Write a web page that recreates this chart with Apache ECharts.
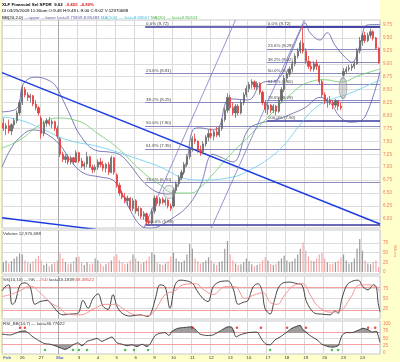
<!DOCTYPE html>
<html><head><meta charset="utf-8">
<script src="https://cdn.jsdelivr.net/npm/echarts@6/dist/echarts.min.js"></script>
<style>html,body{margin:0;padding:0;background:#fff}#c{width:400px;height:362px}</style>
</head><body><div id="c"></div>
<script>
// ---------- DATA (60-minute bars, 7 per day) ----------
const dayLabels = ['Feb','26','27','Mar','3','4','5','6','9','10','11','12','13','16','17','18','19','20','23','24'];
const monthLabels = ['Feb','Mar'];
const openP = [
7.85,7.75,7.80,7.70,7.82,7.90,8.05, 8.25,8.50,8.40,8.35,8.38,8.22,8.15, 7.95,7.65,7.85,7.90,7.84,7.88,7.75,
7.55,7.25,7.15,7.20,7.10,7.18,7.10, 7.28,7.12,7.02,7.06,7.20,7.00,6.95, 7.00,7.10,7.05,6.98,7.05,6.90,7.18,
6.85,6.65,6.50,6.42,6.35,6.40,6.20, 6.35,6.15,6.20,6.05,6.10,5.95,5.92, 6.15,6.40,6.30,6.38,6.32,6.36,6.25,
6.25,6.55,6.68,6.80,6.90,7.05,7.20, 7.35,7.55,7.50,7.32,7.30,7.45,7.58, 7.65,7.60,7.68,7.62,7.75,7.92,8.10,
8.35,8.15,8.05,8.18,8.05,8.25,8.40, 8.52,8.60,8.65,8.55,8.62,8.45,8.25, 8.12,8.20,8.10,8.18,8.08,8.30,8.50,
8.72,8.80,8.90,9.00,9.15,9.25,9.40, 9.25,9.05,8.95,8.90,9.00,8.95,8.65, 8.40,8.28,8.30,8.25,8.20,8.28,8.18,
8.78,8.85,8.90,8.92,8.95,9.00,9.25, 9.45,9.55,9.45,9.55,9.62,9.50,9.30];
const highP = [
7.95,7.85,7.92,7.85,7.95,8.10,8.30, 8.58,8.55,8.45,8.42,8.40,8.30,8.18, 8.00,7.90,7.95,7.97,7.92,7.90,7.80,
7.58,7.30,7.25,7.25,7.22,7.20,7.33, 7.30,7.18,7.10,7.30,7.22,7.05,7.05, 7.15,7.18,7.12,7.08,7.10,7.22,7.20,
6.88,6.70,6.55,6.50,6.45,6.42,6.40, 6.38,6.25,6.22,6.15,6.12,6.05,6.20, 6.45,6.45,6.42,6.42,6.40,6.38,6.30,
6.60,6.72,6.85,6.95,7.10,7.25,7.40, 7.60,7.65,7.52,7.42,7.50,7.62,7.72, 7.75,7.72,7.78,7.80,7.95,8.15,8.43,
8.40,8.25,8.22,8.22,8.30,8.45,8.58, 8.65,8.70,8.68,8.66,8.64,8.48,8.30, 8.25,8.22,8.22,8.20,8.35,8.55,8.78,
8.85,8.95,9.05,9.20,9.30,9.45,9.72, 9.30,9.15,9.05,9.05,9.08,8.98,8.70, 8.45,8.35,8.38,8.30,8.32,8.30,8.25,
8.92,8.95,8.98,9.00,9.05,9.30,9.52, 9.60,9.62,9.60,9.68,9.65,9.52,9.32];
const lowP = [
7.70,7.62,7.65,7.62,7.75,7.85,8.00, 8.20,8.35,8.28,8.25,8.18,8.10,8.00, 7.55,7.60,7.78,7.80,7.75,7.70,7.55,
7.20,7.10,7.08,7.05,7.05,7.05,7.08, 7.08,6.98,6.95,7.00,6.98,6.88,6.90, 6.95,7.00,6.92,6.90,6.85,6.88,6.85,
6.60,6.45,6.38,6.30,6.25,6.15,6.15, 6.10,6.05,6.00,5.98,5.90,5.88,5.90, 6.10,6.25,6.25,6.28,6.26,6.20,6.15,
6.22,6.50,6.62,6.75,6.85,7.00,7.15, 7.30,7.45,7.28,7.22,7.25,7.40,7.50, 7.55,7.52,7.58,7.58,7.70,7.88,8.05,
8.10,8.00,7.95,8.00,8.02,8.20,8.35, 8.45,8.52,8.50,8.50,8.40,8.20,8.05, 8.02,8.05,8.05,8.00,8.05,8.25,8.45,
8.65,8.75,8.85,8.95,9.10,9.20,9.20, 9.00,8.90,8.85,8.85,8.88,8.60,8.35, 8.22,8.15,8.20,8.12,8.15,8.10,8.10,
8.75,8.80,8.85,8.86,8.90,8.98,9.20, 9.35,9.40,9.42,9.50,9.45,9.28,9.00];
const closeP = [
7.75,7.80,7.70,7.82,7.90,8.05,8.25, 8.50,8.40,8.35,8.38,8.22,8.15,8.05, 7.65,7.85,7.90,7.84,7.88,7.75,7.60,
7.25,7.15,7.20,7.10,7.18,7.10,7.28, 7.12,7.02,7.06,7.20,7.00,6.95,7.00, 7.10,7.05,6.98,7.05,6.90,7.18,6.90,
6.65,6.50,6.42,6.35,6.40,6.20,6.35, 6.15,6.20,6.05,6.10,5.95,5.92,6.15, 6.40,6.30,6.38,6.32,6.36,6.25,6.20,
6.55,6.68,6.80,6.90,7.05,7.20,7.35, 7.55,7.50,7.32,7.30,7.45,7.58,7.65, 7.60,7.68,7.62,7.75,7.92,8.10,8.35,
8.15,8.05,8.18,8.05,8.25,8.40,8.52, 8.60,8.65,8.55,8.62,8.45,8.25,8.12, 8.20,8.10,8.18,8.08,8.30,8.50,8.72,
8.80,8.90,9.00,9.15,9.25,9.40,9.25, 9.05,8.95,8.90,9.00,8.95,8.65,8.40, 8.28,8.30,8.25,8.20,8.28,8.18,8.15,
8.85,8.90,8.92,8.95,9.00,9.25,9.45, 9.55,9.45,9.55,9.62,9.50,9.30,9.02];
const volumeM = [
25,30,22,28,35,40,48, 45,30,25,22,28,35,42, 30,18,22,15,20,25,30,
48,35,25,20,22,28,38, 40,25,18,25,20,22,35, 30,22,15,20,25,30,40,
45,30,25,20,22,30,45, 35,28,22,25,30,40,50, 45,25,20,18,22,28,40,
50,35,28,25,30,45,72, 60,35,28,22,25,30,38, 30,22,18,25,28,60,80,
45,30,22,18,20,25,35, 28,20,15,18,22,30,38, 30,20,18,22,28,35,42,
30,25,28,35,45,60,76, 55,40,30,28,35,45,50, 35,25,20,22,25,30,38,
45,30,22,25,35,60,85, 55,30,22,20,25,30,13];
// indicator lines as [barIndex, value]
const bbUpper = [[-0.5,8.07],[5.1,8.14],[6.9,8.55],[8.8,8.69],[11.7,8.74],[15.4,8.71],[19.1,8.59],[21.7,8.34],[24.7,8.01],[28.4,7.62],[34,7.33],[39.5,7.29],[43.2,7.24],[47,7.04],[50.6,6.79],[54.3,6.60],[58,6.50],[61.7,6.48],[65.4,6.75],[68,7.14],[70.2,7.72],[72.8,7.76],[77.7,7.72],[80.2,7.80],[82.1,8.22],[84,8.32],[90.6,8.30],[95.8,8.63],[101.4,8.69],[106.2,9.17],[109.9,9.63],[111.7,9.79],[113.6,9.60],[117.3,9.46],[119.9,9.60],[122.8,9.36],[126.5,9.13],[129.1,9.03],[132.1,9.36],[134.7,9.75],[139.5,9.76]];
const bbLower = [[-0.5,7.00],[2.5,7.33],[6.2,7.58],[11,7.72],[15.4,7.66],[21,7.43],[24.7,7.14],[29.5,6.89],[35.8,6.81],[40.6,6.75],[43.2,6.56],[47,6.17],[50.6,5.88],[54.3,5.82],[56.9,5.84],[61.7,5.98],[68,6.23],[72.8,6.62],[77.6,7.25],[80.2,7.20],[85,7.10],[90.6,7.72],[95,7.85],[100.6,7.91],[106.2,8.02],[111.7,8.15],[117.3,8.35],[121,8.25],[124.7,7.97],[128.4,7.87],[132.1,7.89],[135.8,8.20],[139.5,8.85]];
const maGreen = [[-0.5,7.37],[6.2,7.53],[13.6,7.82],[20.2,7.95],[26.5,7.91],[35.8,7.62],[43.2,7.33],[50.6,6.95],[58,6.66],[63.6,6.50],[69.1,6.50],[72.8,6.60],[78.4,6.91],[84,7.24],[91.4,7.62],[98.8,8.01],[106.2,8.40],[113.6,8.65],[119.1,8.69],[124.7,8.65],[132.1,8.78],[139.5,8.90]];
const maCyan = [[-0.5,7.97],[6.2,7.91],[13.6,7.76],[23.6,7.53],[35.8,7.39],[54.3,7.08],[72.8,6.75],[85,6.81],[91.4,6.95],[97.6,7.14],[103.6,7.41],[109.9,7.82],[115.4,8.14],[121,8.30],[128.4,8.43],[137,8.63],[139.5,8.685]];
const stochK = [[-0.5,70],[1,82],[2.1,85],[3.2,35],[4.3,40],[6.2,85],[8,90],[9.9,80],[11.7,35],[13.6,42],[16.2,45],[18.4,30],[20.2,15],[22.1,8],[24.7,10],[27.6,12],[29.5,45],[31.4,25],[33.2,50],[35.1,62],[36.9,30],[38.8,22],[40.6,60],[42.1,30],[44,12],[47,5],[50.6,8],[53.6,4],[55.1,20],[56.5,55],[58,85],[59.9,80],[61.7,25],[63.6,85],[65.4,97],[68,95],[70.2,88],[71.7,70],[73.9,50],[75.8,42],[77.7,80],[80.2,93],[83.2,95],[85.1,75],[87,35],[88.8,40],[90.6,45],[92.5,80],[94.3,88],[95.8,70],[96.9,25],[98.8,10],[100.2,40],[101.7,75],[103.6,90],[106.2,92],[108.8,88],[110.6,85],[112.1,45],[113.6,25],[115.4,12],[118,10],[121,8],[122.8,18],[124,12],[125.4,50],[127.3,85],[129.5,95],[131.4,97],[133.2,80],[135.1,72],[137,85],[138.1,80],[138.8,40],[139.5,16.2]];
const stochD = [[-0.5,55],[2.5,60],[6.2,70],[9.9,82],[13.6,65],[17.3,40],[21,25],[23.6,10],[28.4,8],[34,25],[37.6,35],[41.4,35],[45.1,20],[48.8,8],[53.6,6],[56.2,20],[59.9,60],[63.6,70],[66.5,85],[71,88],[74.7,70],[77.7,60],[82.1,80],[85.8,80],[89.5,50],[93.2,60],[96.2,65],[98.8,40],[101.4,35],[104.3,60],[108,85],[111,88],[113.6,60],[116.5,30],[121,15],[124.7,18],[128.4,50],[132.1,85],[135.8,85],[139.5,68.4]];
const rsiVals = [[-0.5,65],[2.5,62],[5.1,70],[6.2,74],[8,76],[9.1,70],[11,55],[13.6,40],[15.4,32],[17.3,30],[19.1,25],[21,18],[22.8,12],[24.7,20],[25.8,28],[27.6,35],[29.1,25],[31,40],[32.8,45],[34.7,50],[36.5,40],[38.4,48],[40.2,55],[42.1,35],[44,30],[45.8,25],[47.7,28],[49.5,22],[51.4,30],[53.2,22],[54.3,30],[56.2,60],[58,68],[59.9,70],[61.4,60],[62.5,75],[64.7,85],[67.3,88],[69.9,90],[71.7,75],[72.8,65],[75.4,60],[77.7,62],[80.2,75],[83.2,90],[84.7,88],[86.2,55],[87.6,62],[90.6,70],[93.9,72],[95.8,45],[97.3,30],[98.8,28],[100.6,45],[102.5,55],[104.7,70],[106.9,85],[109.9,95],[111,80],[113.6,60],[116.2,45],[118,30],[120.2,22],[122.1,20],[124,25],[125.4,60],[126.9,70],[129.1,70],[131.4,78],[133.2,85],[135.1,80],[136.6,72],[138.1,75],[139.5,36.8]];
const rsiSellDots = [[6.2,87],[8.0,87],[69.9,87],[86.5,87],[95.4,87],[105.1,87],[112.1,87],[135.1,87],[137.7,87]];
const rsiBuyDots = [[15.4,10],[25.8,10],[28.0,10],[31.0,10],[45.1,10],[48.4,10],[53.6,10],[98.8,10],[121.7,10],[124.0,10]];
// annotations
const fibNames = ['0.0%','23.6%','38.2%','50.0%','61.8%','78.6%','100.0%'];
const fibLeftValues = [9.72,8.81,8.25,7.80,7.35,6.70,5.88];
const fibLeftStart = 52.5;
const fibRightValues = [9.72,9.29,9.02,8.81,8.60,8.29,7.90];
const fibRightStart = 97.6;
const trendBlue = [[[-0.5,8.83],[139.5,5.90]], [[-0.5,6.02],[60,5.63]]];
const trendThin = [[[52,5.82],[86,9.85]], [[77,5.82],[111.5,9.85]]];
const ovals = [[61.4,6.52],[125.8,8.53]];
const monthBoundary = 20.5;  // between Feb 27 close and Mar 2 open
// axis ticks
const priceTicks = [6.00,6.25,6.50,6.75,7.00,7.25,7.50,7.75,8.00,8.25,8.50,8.75,9.00,9.25,9.50,9.75];
const volTicks = [0,25,50,75];
const stochTicks = [25,50,75];
const stochBands = [20,80];
const rsiTicks = [0,25,50,75,100];
const rsiBands = [30,70];

// ---------- CHART ----------
const N = closeP.length;
const cats = closeP.map((_, i) => String(i));
const FONT = 'Liberation Sans';
const FS = 4.4;
const grids = [
  {left:2, right:20, top:20, height:208},
  {left:2, right:20, top:230, height:44},
  {left:2, right:20, top:276, height:43},
  {left:2, right:20, top:321, height:33}
].map(g => Object.assign(g, {show:true, borderColor:'#c8c8c8', borderWidth:1, backgroundColor:'transparent'}));

const xAxis = [];
for (let g = 0; g < 4; g++) {
  xAxis.push({
    type:'category', gridIndex:g, data:cats, boundaryGap:true,
    axisLine:{show:false}, axisTick:{show:false},
    axisLabel: g === 3 ? {
      show:true, interval:(idx)=> idx % 7 === 0, margin:1.5, fontSize:FS, fontFamily:FONT, color:'#333',
      alignMinLabel:'left',
      formatter:(v, idx)=> { const d = dayLabels[Math.floor(idx/7)]; return monthLabels.includes(d) ? '{m|'+d+'}' : d; },
      rich:{m:{color:'#1030c0', fontSize:FS, fontFamily:FONT}}
    } : {show:false},
    splitLine:{show:true, interval:(idx)=> idx % 7 === 0, lineStyle:{color:'#d8d8d8', width:1}}
  });
}
for (let g = 0; g < 4; g++) {
  xAxis.push({type:'value', gridIndex:g, min:-0.5, max:N-0.5, show:false});
}
const axLabel = (vals, fmt) => ({show:true, customValues:vals, formatter:fmt, color:'#f07a5a', fontSize:FS+0.2, fontFamily:FONT, margin:3});
const yAxis = [
  {type:'value', gridIndex:0, position:'right', min:5.823, max:9.847, axisLine:{show:false}, axisTick:{show:false}, splitLine:{show:false}, axisLabel:axLabel(priceTicks, v=>v.toFixed(2))},
  {type:'value', gridIndex:1, position:'right', min:-5.2, max:108.5, axisLine:{show:false}, axisTick:{show:false}, splitLine:{show:false}, axisLabel:axLabel(volTicks, v=>String(v))},
  {type:'value', gridIndex:2, position:'right', min:-2.6, max:107.7, axisLine:{show:false}, axisTick:{show:false}, splitLine:{show:false}, axisLabel:axLabel(stochTicks, v=>String(v))},
  {type:'value', gridIndex:3, position:'right', min:-3.5, max:110, axisLine:{show:false}, axisTick:{show:false}, splitLine:{show:false}, axisLabel:axLabel(rsiTicks, v=>String(v))}
];

const gridLineML = (vals, color) => vals.map(v => ({yAxis:v, lineStyle:{color:color, width:1, type:'solid'}, label:{show:false}}));
const monthML = {xAxis: monthBoundary, lineStyle:{color:'#a8a8a8', width:1, type:'solid'}, label:{show:false}};
const lineS = (data, xi, yi, color, width, smooth) => ({type:'line', xAxisIndex:xi, yAxisIndex:yi, data:data, showSymbol:false, smooth:smooth, silent:true, lineStyle:{color:color, width:width}, z:3});

const fibML = [monthML];
const fibLine = (start, vals) => vals.forEach((v, k) => {
  const heavy = (k === 0 || k === vals.length - 1);
  fibML.push([{coord:[start, v], lineStyle:{color: heavy ? '#3a3aa0' : '#8a8ac0', width: heavy ? 1.6 : 1, type:'solid'},
    label:{show:true, position:'insideStartTop', distance:1, formatter: fibNames[k] + ' (' + v.toFixed(2) + ')', fontSize:FS, fontFamily:FONT, color:'#444'}},
    {coord:[N-0.5, v]}]);
});
fibLine(fibLeftStart, fibLeftValues);
fibLine(fibRightStart, fibRightValues);

// StockCharts-style colouring: red if close below previous close, hollow (lighter) if close above open
const candleColor = (i) => {
  const prev = i > 0 ? closeP[i-1] : openP[i];
  const down = closeP[i] < prev, filled = closeP[i] < openP[i];
  return down ? (filled ? '#e43a3a' : '#f29090') : (filled ? '#222222' : '#6a6a6a');
};

const series = [];
series.push({
  type:'candlestick', xAxisIndex:0, yAxisIndex:0, barWidth:1.7, z:4,
  data: openP.map((o, i) => { const c = candleColor(i); return {value:[o, closeP[i], lowP[i], highP[i]], itemStyle:{color:c, color0:c, borderColor:c, borderColor0:c}}; }),
  itemStyle:{borderWidth:0.8},
  markLine:{silent:true, symbol:'none', z:1, data: gridLineML(priceTicks, '#dcdcdc').concat([
    {yAxis: closeP[N-1], lineStyle:{opacity:0}, label:{show:true, position:'end', distance:0, formatter: closeP[N-1].toFixed(2), backgroundColor:'#000', color:'#fff', fontSize:FS+0.3, fontWeight:'bold', fontFamily:FONT, padding:[1.5,4,1,2]}}
  ])}
});
series.push(lineS(bbUpper, 4, 0, '#5c5ca8', 0.8, 0.4));
series.push(lineS(bbLower, 4, 0, '#5c5ca8', 0.8, 0.4));
series.push(lineS(maGreen, 4, 0, '#66cc66', 0.8, 0.5));
series.push(lineS(maCyan, 4, 0, '#66ccee', 0.8, 0.5));
trendBlue.forEach((seg, k) => {
  const s = lineS(seg, 4, 0, '#1a3ce0', 1.4, false);
  if (k === 0) s.markLine = {silent:true, symbol:'none', z:2, data: fibML};
  series.push(s);
});
trendThin.forEach(seg => series.push(lineS(seg, 4, 0, '#7878c8', 0.8, false)));
series.push({type:'scatter', xAxisIndex:4, yAxisIndex:0, data:[ovals[0]], symbol:'circle', symbolSize:[12,13], silent:true, z:5,
  itemStyle:{color:'rgba(200,200,200,0.35)', borderColor:'#888', borderWidth:0.8}});
series.push({type:'scatter', xAxisIndex:4, yAxisIndex:0, data:[ovals[1]], symbol:'circle', symbolSize:[8,21], silent:true, z:5,
  itemStyle:{color:'rgba(170,170,170,0.6)', borderColor:'#888', borderWidth:0.8}});
// volume
series.push({
  type:'bar', xAxisIndex:1, yAxisIndex:1, barWidth:1.2, silent:true,
  data: volumeM.map((v, i) => ({value:v, itemStyle:{color: (i === 0 || closeP[i] >= closeP[i-1]) ? '#9a9a9a' : '#f4a6a6'}})),
  markLine:{silent:true, symbol:'none', z:1, data: gridLineML([25,50,75], '#dcdcdc').concat([
    {yAxis:38.5, lineStyle:{opacity:0}, label:{show:true, position:'end', distance:0, formatter:'38.5M', backgroundColor:'#000', color:'#fff', fontSize:FS, fontWeight:'bold', fontFamily:FONT, padding:[1.5,2,1,1]}}
  ])}
});
series.push({type:'line', xAxisIndex:5, yAxisIndex:1, data:[[monthBoundary, 0]], showSymbol:false, silent:true, lineStyle:{opacity:0},
  markLine:{silent:true, symbol:'none', z:1, data:[monthML]}});
// stochastics
const kS = lineS(stochK, 6, 2, '#333333', 0.9, 0.35);
kS.markLine = {silent:true, symbol:'none', z:1, data: gridLineML(stochTicks, '#dcdcdc').concat(gridLineML(stochBands, '#f4a0a0'), [monthML])};
series.push(kS);
series.push(lineS(stochD, 6, 2, '#f08a8a', 0.9, 0.4));
// RSI
series.push({type:'line', xAxisIndex:7, yAxisIndex:3, data: rsiVals.map(p => [p[0], Math.max(p[1], rsiBands[1])]), showSymbol:false, silent:true, smooth:0.2,
  lineStyle:{opacity:0}, areaStyle:{origin: rsiBands[1], color:'#8c8c8c', opacity:0.85}, z:2});
series.push({type:'line', xAxisIndex:7, yAxisIndex:3, data: rsiVals.map(p => [p[0], Math.min(p[1], rsiBands[0])]), showSymbol:false, silent:true, smooth:0.2,
  lineStyle:{opacity:0}, areaStyle:{origin: rsiBands[0], color:'#8c8c8c', opacity:0.85}, z:2});
const rS = lineS(rsiVals, 7, 3, '#333333', 0.9, 0.2);
rS.markLine = {silent:true, symbol:'none', z:1, data: gridLineML([50], '#dcdcdc').concat(gridLineML(rsiBands, '#f4a0a0'), [monthML])};
series.push(rS);
series.push({type:'scatter', xAxisIndex:7, yAxisIndex:3, data:rsiSellDots, symbolSize:2.5, silent:true, itemStyle:{color:'#e02020'}, z:5});
series.push({type:'scatter', xAxisIndex:7, yAxisIndex:3, data:rsiBuyDots, symbolSize:2.5, silent:true, itemStyle:{color:'#20b020'}, z:5});

const R = (x, y, text, rich) => ({type:'text', x:x, y:y, silent:true, z:10,
  style:{text:text, fill:'#000', font: FS + 'px "Liberation Sans"', verticalAlign:'middle', rich:rich}});
const rs = (c, b) => ({fill:c, fontSize:FS, fontFamily:FONT, fontWeight: b ? 'bold' : 'normal'});
const graphic = [
  {type:'rect', shape:{x:380, y:0, width:20, height:362}, style:{fill:'#ffffcc'}, z:-10, silent:true},
  {type:'rect', shape:{x:0, y:354, width:380, height:8}, style:{fill:'#ffffcc'}, z:-10, silent:true},
  {type:'rect', shape:{x:0, y:0, width:2, height:362}, style:{fill:'#ffffcc'}, z:-10, silent:true},
  R(2, 4.5, '{k|XLF Financial Sel SPDR}  {k|9.02}  {r|-0.455}  {r|-4.80%}', {k:rs('#000', true), r:rs('#e02020', true)}),
  R(2, 11, '{k|Dl 03/25/2009 11:30am O:9.48 H:9.48 L:9.00 C:9.02 V:12970688}', {k:rs('#000')}),
  R(2, 17.5, '{k|BB(20,2.0)} {p|\u2014upper \u2014lower last=9.75909,8.85483} {c|MA(100) \u2014 last=8.68507} {g|MA(20) \u2014 last=8.90203}',
    {k:rs('#000'), p:rs('#5c5ca8'), c:rs('#44bbe0'), g:rs('#44bb44')}),
  R(3, 234, '{k|Volume 12,970,688}', {k:rs('#333')}),
  R(3, 279.5, '{k|SS(10,10) \u2014%K} {r|\u2014%D} {k|last=16.1839,}{r|68.38522}', {k:rs('#333'), r:rs('#e04040')}),
  R(3, 323.5, '{k|RSI_BB(14,7) \u2014 last=36.77022}', {k:rs('#333')}),
  {type:'text', x:395, y:251, rotation:-Math.PI/2, silent:true, z:10,
    style:{text:'Millions', fill:'#f07a5a', font:'3.6px "Liberation Sans"', align:'center', verticalAlign:'middle'}}
];

const chart = echarts.init(document.getElementById('c'), null, {renderer:'canvas'});
chart.setOption({animation:false, backgroundColor:'#ffffff', grid:grids, xAxis:xAxis, yAxis:yAxis, series:series, graphic:graphic});
</script></body></html>
